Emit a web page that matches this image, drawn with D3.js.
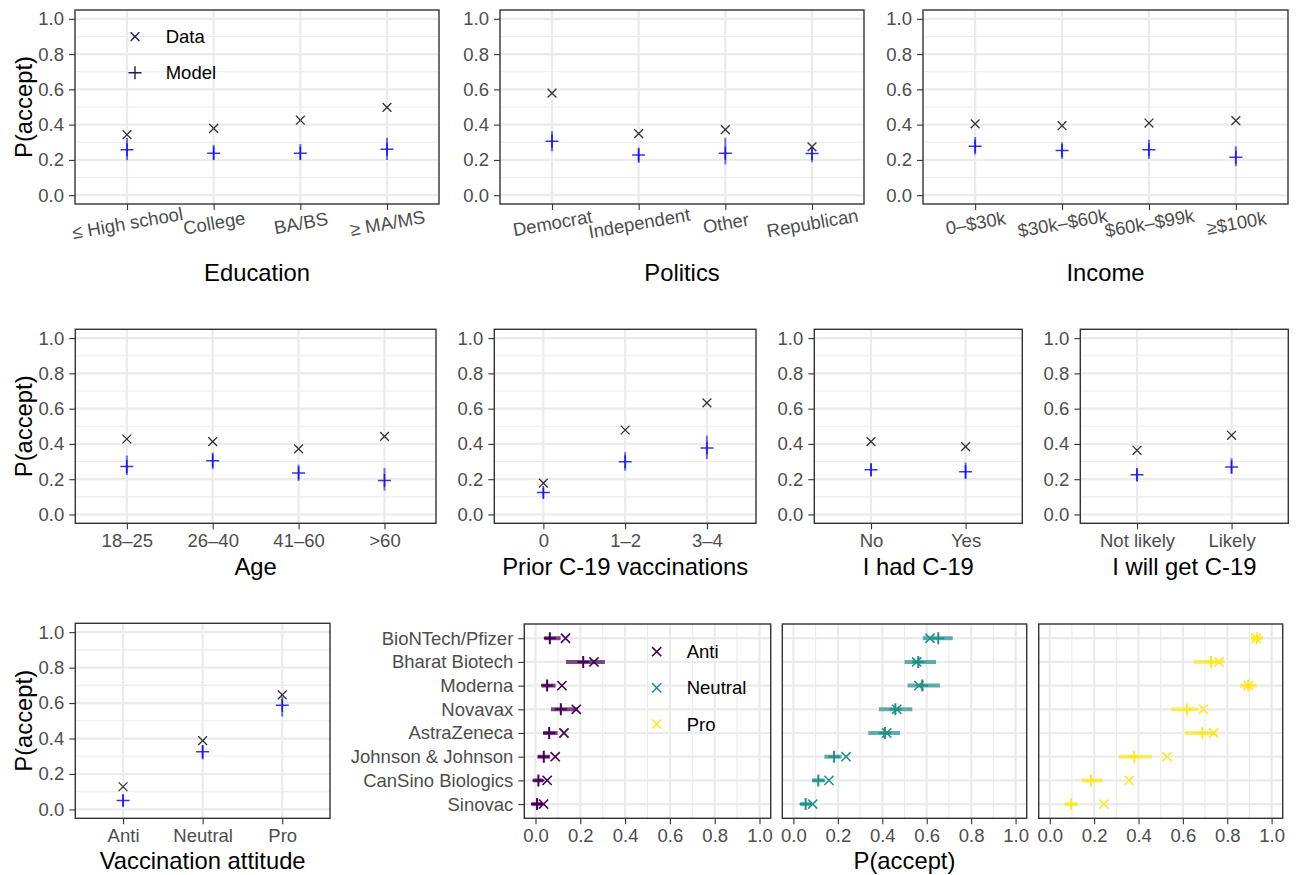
<!DOCTYPE html>
<html>
<head>
<meta charset="utf-8">
<script src="https://cdn.jsdelivr.net/npm/d3@7"></script>
<style>
  body { margin: 0; background: #fff; }
  svg { display: block; }
</style>
</head>
<body>
<svg id="chart" width="1298" height="875"></svg>
<script>
// ---- data ----
const eduCats = ["≤ High school", "College", "BA/BS", "≥ MA/MS"];
const eduData = [0.343, 0.379, 0.425, 0.498];
const eduModel = [0.257, 0.238, 0.238, 0.260];
const eduLo = [0.198, 0.198, 0.198, 0.200];
const eduHi = [0.325, 0.285, 0.290, 0.325];

const polCats = ["Democrat", "Independent", "Other", "Republican"];
const polData = [0.579, 0.349, 0.372, 0.274];
const polModel = [0.306, 0.228, 0.238, 0.236];
const polLo = [0.249, 0.183, 0.174, 0.187];
const polHi = [0.362, 0.270, 0.325, 0.268];

const incCats = ["0–$30k", "$30k–$60k", "$60k–$99k", "≥$100k"];
const incData = [0.404, 0.394, 0.409, 0.423];
const incModel = [0.277, 0.253, 0.258, 0.215];
const incLo = [0.230, 0.206, 0.206, 0.164];
const incHi = [0.330, 0.300, 0.315, 0.277];

const ageCats = ["18–25", "26–40", "41–60", ">60"];
const ageData = [0.428, 0.413, 0.372, 0.443];
const ageModel = [0.272, 0.304, 0.235, 0.193];
const ageLo = [0.223, 0.257, 0.190, 0.135];
const ageHi = [0.334, 0.351, 0.282, 0.263];

const priorCats = ["0", "1–2", "3–4"];
const priorData = [0.178, 0.479, 0.633];
const priorModel = [0.124, 0.299, 0.377];
const priorLo = [0.094, 0.248, 0.314];
const priorHi = [0.150, 0.353, 0.447];

const hadCats = ["No", "Yes"];
const hadData = [0.413, 0.385];
const hadModel = [0.254, 0.242];
const hadLo = [0.216, 0.200];
const hadHi = [0.290, 0.295];

const willCats = ["Not likely", "Likely"];
const willData = [0.364, 0.449];
const willModel = [0.225, 0.269];
const willLo = [0.188, 0.231];
const willHi = [0.263, 0.319];

const attCats = ["Anti", "Neutral", "Pro"];
const attData = [0.128, 0.388, 0.646];
const attModel = [0.051, 0.326, 0.588];
const attLo = [0.019, 0.282, 0.524];
const attHi = [0.081, 0.363, 0.637];

const vaccines = ["BioNTech/Pfizer", "Bharat Biotech", "Moderna", "Novavax",
  "AstraZeneca", "Johnson & Johnson", "CanSino Biologics", "Sinovac"];

const antiData = [0.134, 0.261, 0.118, 0.182, 0.127, 0.088, 0.052, 0.036];
const antiModel = [0.064, 0.213, 0.052, 0.113, 0.061, 0.037, 0.013, 0.007];
const antiLo = [0.039, 0.136, 0.027, 0.069, 0.034, 0.009, -0.010, -0.018];
const antiHi = [0.112, 0.310, 0.090, 0.190, 0.099, 0.064, 0.034, 0.027];

const neutData = [0.615, 0.555, 0.565, 0.465, 0.420, 0.237, 0.160, 0.087];
const neutModel = [0.652, 0.562, 0.580, 0.459, 0.412, 0.183, 0.112, 0.055];
const neutLo = [0.582, 0.500, 0.514, 0.385, 0.337, 0.139, 0.084, 0.030];
const neutHi = [0.717, 0.642, 0.660, 0.535, 0.480, 0.217, 0.142, 0.082];

const proData = [0.930, 0.763, 0.895, 0.693, 0.738, 0.528, 0.358, 0.244];
const proModel = [0.933, 0.727, 0.895, 0.618, 0.688, 0.381, 0.186, 0.096];
const proLo = [0.906, 0.650, 0.858, 0.547, 0.610, 0.310, 0.141, 0.066];
const proHi = [0.960, 0.783, 0.933, 0.670, 0.753, 0.460, 0.238, 0.126];

const attitudeColors = { Anti: "#440154", Neutral: "#21908C", Pro: "#FDE725" };

// ---- helpers ----
const FONT = '"Liberation Sans", Arial, Helvetica, sans-serif';
const TICK_FS = 18.5, TITLE_FS = 23.8;
const svg = d3.select("#chart");
const probTicks = [0, 0.2, 0.4, 0.6, 0.8, 1.0];
const minorTicks = [0.1, 0.3, 0.5, 0.7, 0.9];

function crossPath(cx, cy, r) {  // "×"
  return `M${cx - r},${cy - r}L${cx + r},${cy + r}M${cx - r},${cy + r}L${cx + r},${cy - r}`;
}
function plusPath(cx, cy, r) {   // "+"
  return `M${cx - r},${cy}L${cx + r},${cy}M${cx},${cy - r}L${cx},${cy + r}`;
}

function styleAxis(g) {
  g.attr("font-family", FONT).attr("font-size", TICK_FS);
  g.select(".domain").remove();
  g.selectAll(".tick line").attr("stroke", "#333").attr("stroke-width", 1.1);
  g.selectAll(".tick text").attr("fill", "#4d4d4d");
}

function frame(g, w, h) {
  g.append("rect").attr("width", w).attr("height", h)
    .attr("fill", "none").attr("stroke", "#333").attr("stroke-width", 1.4);
}

// categorical panel: Data (×) vs Model (+ with interval)
function catPanel(box, cats, dat, mod, lo, hi, opts) {
  const w = box.x1 - box.x0, h = box.y1 - box.y0;
  const g = svg.append("g").attr("transform", `translate(${box.x0},${box.y0})`);
  const x = d3.scalePoint().domain(cats).range([0, w]).padding(0.6);
  const y = d3.scaleLinear().domain([-0.05, 1.05]).range([h, 0]);

  g.append("rect").attr("width", w).attr("height", h).attr("fill", "#fff");
  const grid = g.append("g");
  grid.selectAll(".minor").data(minorTicks).join("line")
    .attr("x1", 0).attr("x2", w).attr("y1", d => y(d)).attr("y2", d => y(d))
    .attr("stroke", "#ebebeb").attr("stroke-width", 1.1);
  grid.selectAll(".major").data(probTicks).join("line")
    .attr("x1", 0).attr("x2", w).attr("y1", d => y(d)).attr("y2", d => y(d))
    .attr("stroke", "#ebebeb").attr("stroke-width", 2.2);
  grid.selectAll(".vx").data(cats).join("line")
    .attr("x1", d => x(d)).attr("x2", d => x(d)).attr("y1", 0).attr("y2", h)
    .attr("stroke", "#ebebeb").attr("stroke-width", 2.2);

  const rows = cats.map((c, i) => ({ c, d: dat[i], m: mod[i], lo: lo[i], hi: hi[i] }));
  g.selectAll(".err").data(rows).join("line")
    .attr("x1", d => x(d.c)).attr("x2", d => x(d.c))
    .attr("y1", d => y(d.lo)).attr("y2", d => y(d.hi))
    .attr("stroke", "#0000ff").attr("stroke-opacity", 0.55).attr("stroke-width", 2);
  g.selectAll(".model").data(rows).join("path")
    .attr("d", d => plusPath(x(d.c), y(d.m), 6.5))
    .attr("stroke", "#0000ff").attr("stroke-opacity", 0.8).attr("stroke-width", 1.5);
  g.selectAll(".data").data(rows).join("path")
    .attr("d", d => crossPath(x(d.c), y(d.d), 4.4))
    .attr("stroke", "#333").attr("stroke-width", 1.3);

  frame(g, w, h);

  g.append("g").call(d3.axisLeft(y).tickValues(probTicks).tickFormat(d3.format(".1f"))
    .tickSize(6).tickPadding(5)).call(styleAxis);

  const xa = g.append("g").attr("transform", `translate(0,${h})`)
    .call(d3.axisBottom(x).tickSize(6).tickPadding(5)).call(styleAxis);
  if (opts.rotate) {
    xa.selectAll(".tick text")
      .attr("dy", null).attr("y", 19).attr("dominant-baseline", "central")
      .attr("transform", "rotate(-10,0,19)");
  }

  g.append("text").attr("x", w / 2).attr("y", h + opts.titleOffset)
    .attr("text-anchor", "middle").attr("dominant-baseline", "central")
    .attr("font-family", FONT).attr("font-size", TITLE_FS).attr("fill", "#000")
    .text(opts.title);

  if (opts.ylab) {
    g.append("text")
      .attr("transform", `translate(${23 - box.x0},${h / 2}) rotate(-90)`)
      .attr("text-anchor", "middle").attr("dominant-baseline", "central")
      .attr("font-family", FONT).attr("font-size", TITLE_FS).attr("fill", "#000")
      .text("P(accept)");
  }
  return { g, x, y };
}

// ---- top row ----
const top1 = catPanel({ x0: 75, x1: 439, y0: 10, y1: 204 }, eduCats, eduData, eduModel, eduLo, eduHi,
  { rotate: true, title: "Education", titleOffset: 68, ylab: true });
catPanel({ x0: 500, x1: 864, y0: 10, y1: 204 }, polCats, polData, polModel, polLo, polHi,
  { rotate: true, title: "Politics", titleOffset: 68 });
catPanel({ x0: 923, x1: 1288, y0: 10, y1: 204 }, incCats, incData, incModel, incLo, incHi,
  { rotate: true, title: "Income", titleOffset: 68 });

// legend inside first panel
const leg = top1.g.append("g").attr("font-family", FONT).attr("font-size", TICK_FS);
[["Data", "x"], ["Model", "+"]].forEach(([lab, sym], i) => {
  const ly = 26.7 + i * 36, lx = 60;
  leg.append("path")
    .attr("d", sym === "x" ? crossPath(lx, ly, 4.4) : plusPath(lx, ly, 6.5))
    .attr("stroke", "#1f1f4d").attr("stroke-width", 1.4);
  leg.append("text").attr("x", lx + 30.7).attr("y", ly).attr("dominant-baseline", "central")
    .attr("fill", "#000").text(lab);
});

// ---- middle row ----
catPanel({ x0: 75.3, x1: 436, y0: 329.3, y1: 523.3 }, ageCats, ageData, ageModel, ageLo, ageHi,
  { title: "Age", titleOffset: 43, ylab: true });
catPanel({ x0: 494.3, x1: 756, y0: 329.3, y1: 523.3 }, priorCats, priorData, priorModel, priorLo, priorHi,
  { title: "Prior C-19 vaccinations", titleOffset: 43 });
catPanel({ x0: 814.3, x1: 1022.3, y0: 329.3, y1: 523.3 }, hadCats, hadData, hadModel, hadLo, hadHi,
  { title: "I had C-19", titleOffset: 43 });
catPanel({ x0: 1080.3, x1: 1288.3, y0: 329.3, y1: 523.3 }, willCats, willData, willModel, willLo, willHi,
  { title: "I will get C-19", titleOffset: 43 });

// ---- bottom left ----
catPanel({ x0: 75.3, x1: 330, y0: 623.3, y1: 818.3 }, attCats, attData, attModel, attLo, attHi,
  { title: "Vaccination attitude", titleOffset: 42, ylab: true });

// ---- vaccine facets ----
const facets = [
  { name: "Anti", dat: antiData, mod: antiModel, lo: antiLo, hi: antiHi, x0: 524.3, x1: 770.7 },
  { name: "Neutral", dat: neutData, mod: neutModel, lo: neutLo, hi: neutHi, x0: 782.3, x1: 1026.7 },
  { name: "Pro", dat: proData, mod: proModel, lo: proLo, hi: proHi, x0: 1038.7, x1: 1282.7 }
];
const vy0 = 624, vy1 = 818.3;
const xTicksMinor = [0.1, 0.3, 0.5, 0.7, 0.9];

facets.forEach((f, fi) => {
  const w = f.x1 - f.x0, h = vy1 - vy0;
  const g = svg.append("g").attr("transform", `translate(${f.x0},${vy0})`);
  const x = d3.scaleLinear().domain([-0.05, 1.05]).range([0, w]);
  const y = d3.scalePoint().domain(vaccines).range([0, h]).padding(0.6);
  const col = attitudeColors[f.name];

  g.append("rect").attr("width", w).attr("height", h).attr("fill", "#fff");
  g.selectAll(".vminor").data(xTicksMinor).join("line")
    .attr("x1", d => x(d)).attr("x2", d => x(d)).attr("y1", 0).attr("y2", h)
    .attr("stroke", "#ebebeb").attr("stroke-width", 1.1);
  g.selectAll(".vmajor").data(probTicks).join("line")
    .attr("x1", d => x(d)).attr("x2", d => x(d)).attr("y1", 0).attr("y2", h)
    .attr("stroke", "#ebebeb").attr("stroke-width", 2.2);
  g.selectAll(".hmajor").data(vaccines).join("line")
    .attr("x1", 0).attr("x2", w).attr("y1", d => y(d)).attr("y2", d => y(d))
    .attr("stroke", "#ebebeb").attr("stroke-width", 2.2);

  const rows = vaccines.map((v, i) => ({ v, d: f.dat[i], m: f.mod[i], lo: f.lo[i], hi: f.hi[i] }));
  g.selectAll(".err").data(rows).join("line")
    .attr("x1", d => x(d.lo)).attr("x2", d => x(d.hi))
    .attr("y1", d => y(d.v)).attr("y2", d => y(d.v))
    .attr("stroke", col).attr("stroke-opacity", 0.7).attr("stroke-width", 4);
  g.selectAll(".model").data(rows).join("path")
    .attr("d", d => plusPath(x(d.m), y(d.v), 6))
    .attr("stroke", col).attr("stroke-width", 2);
  g.selectAll(".data").data(rows).join("path")
    .attr("d", d => crossPath(x(d.d), y(d.v), 4.6))
    .attr("stroke", col).attr("stroke-width", 1.6);

  frame(g, w, h);

  g.append("g").attr("transform", `translate(0,${h})`)
    .call(d3.axisBottom(x).tickValues(probTicks).tickFormat(d3.format(".1f")).tickSize(6).tickPadding(5))
    .call(styleAxis);

  if (fi === 0) {
    g.append("g").call(d3.axisLeft(y).tickSize(6).tickPadding(5)).call(styleAxis);

    const lg = g.append("g").attr("font-family", FONT).attr("font-size", TICK_FS);
    facets.forEach((ff, li) => {
      const lx = 132.4, ly = 27.7 + li * 36.2;
      lg.append("path").attr("d", crossPath(lx, ly, 4.6))
        .attr("stroke", attitudeColors[ff.name]).attr("stroke-width", 1.6);
      lg.append("text").attr("x", lx + 30).attr("y", ly).attr("dominant-baseline", "central")
        .attr("fill", "#000").text(ff.name);
    });
  }
  if (fi === 1) {
    g.append("text").attr("x", w / 2).attr("y", h + 42)
      .attr("text-anchor", "middle").attr("dominant-baseline", "central")
      .attr("font-family", FONT).attr("font-size", TITLE_FS).attr("fill", "#000")
      .text("P(accept)");
  }
});
</script>
</body>
</html>
